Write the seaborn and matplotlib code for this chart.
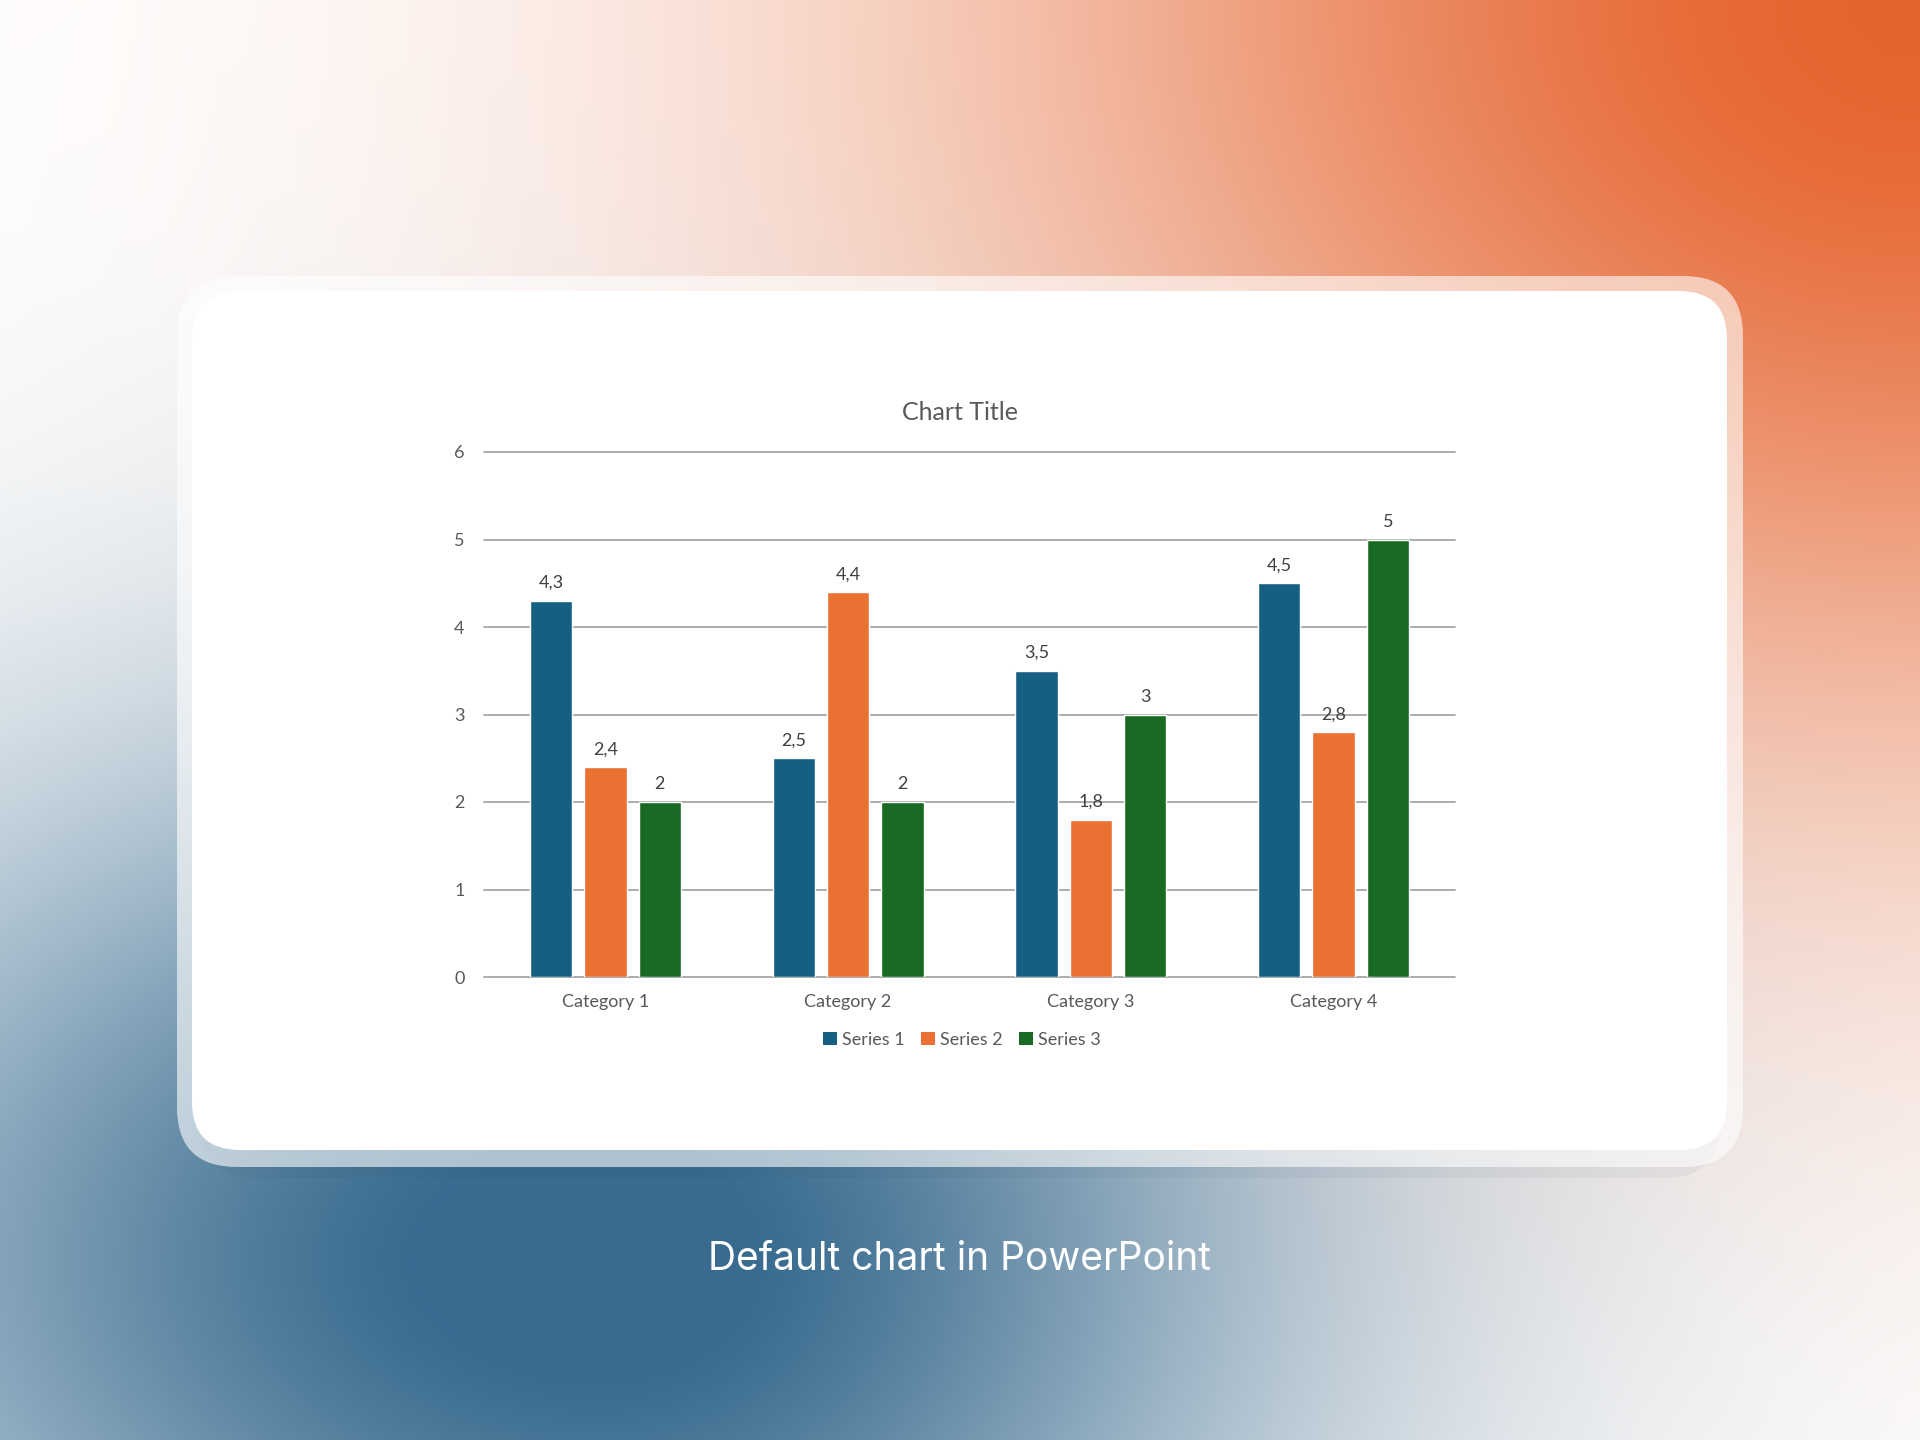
import numpy as np
import pandas as pd
import matplotlib
matplotlib.use("Agg")
import matplotlib.pyplot as plt
from matplotlib.patches import FancyBboxPatch, Patch
import seaborn as sns

# chart data
categories = ["Category 1", "Category 2", "Category 3", "Category 4"]
series_names = ["Series 1", "Series 2", "Series 3"]
series_1 = [4.3, 2.5, 3.5, 4.5]
series_2 = [2.4, 4.4, 1.8, 2.8]
series_3 = [2, 2, 3, 5]
y_ticks = [0, 1, 2, 3, 4, 5, 6]
colors = ["#156082", "#E97132", "#196B24"]

df = pd.DataFrame({
    "category": categories * 3,
    "series": [s for s in series_names for _ in categories],
    "value": series_1 + series_2 + series_3,
})

sns.set_style("white")
plt.rcParams["font.family"] = ["Lato", "DejaVu Sans"]

W, H = 1920, 1440
fig = plt.figure(figsize=(19.2, 14.4), dpi=100)

# background gradient
bg = fig.add_axes([0, 0, 1, 1])
yy, xx = np.mgrid[0:H, 0:W].astype(float)
w_o = np.exp(-(((xx - 1920) / 950) ** 2 + (yy / 760) ** 2))
sx = np.where(xx > 600, 680, 820)
w_b = np.clip(1.05 * np.exp(-(((xx - 600) / sx) ** 2 + ((yy - 1260) / 520) ** 2)), 0, 1)
orange = np.array([0.90, 0.39, 0.18])
blue = np.array([0.22, 0.42, 0.56])
img = np.ones((H, W, 3))
img = img * (1 - w_o[..., None]) + orange * w_o[..., None]
img = img * (1 - w_b[..., None]) + blue * w_b[..., None]
bg.imshow(img, extent=[0, W, H, 0], aspect="auto", interpolation="bilinear")
bg.set_xlim(0, W)
bg.set_ylim(H, 0)
bg.axis("off")

# card shadow, border glow, white card
bg.add_patch(FancyBboxPatch((200, 300), 1520, 878, boxstyle="round,pad=0,rounding_size=55",
                            facecolor="#1d3a50", alpha=0.05, edgecolor="none"))
bg.add_patch(FancyBboxPatch((177, 276), 1566, 891, boxstyle="round,pad=0,rounding_size=60",
                            facecolor="white", alpha=0.6, edgecolor="none"))
bg.add_patch(FancyBboxPatch((192, 291), 1535, 859, boxstyle="round,pad=0,rounding_size=48",
                            facecolor="white", edgecolor="none"))

bg.text(960, 1260, "Default chart in PowerPoint", color="white", fontsize=28,
        family=["Inter", "DejaVu Sans"], ha="center", va="center")

# chart
ax = fig.add_axes([484 / W, 1 - 977 / H, 971 / W, 525 / H])
ax.patch.set_alpha(0)
sns.barplot(data=df, x="category", y="value", hue="series", palette=colors, saturation=1,
            width=0.672, gap=0.22, errorbar=None, legend=False, ax=ax, zorder=3)

for cont in ax.containers:
    ax.bar_label(cont, labels=[f"{v:g}".replace(".", ",") for v in cont.datavalues],
                 padding=7, fontsize=13, color="#404040")

ax.set_xlim(-0.5, 3.5)
ax.set_ylim(0, 6)
ax.set_yticks(y_ticks)
ax.set_xlabel("")
ax.set_ylabel("")
ax.yaxis.grid(True, color="#a6a6a6", linewidth=1.3)
for gl in ax.get_ygridlines():
    gl.set_clip_on(False)
ax.set_axisbelow(True)
for sp in ax.spines.values():
    sp.set_visible(False)
ax.tick_params(axis="both", length=0, labelsize=13, labelcolor="#595959")
ax.tick_params(axis="y", pad=14)
ax.tick_params(axis="x", pad=12)

bg.text(960, 413, "Chart Title", color="#595959", fontsize=18, ha="center", va="center")

handles = [Patch(facecolor=c, edgecolor="none") for c in colors]
fig.legend(handles, series_names, loc="center", bbox_to_anchor=(962 / W, 1 - 1040 / H),
           ncol=3, frameon=False, fontsize=13, handlelength=0.75, handleheight=0.75,
           handletextpad=0.3, columnspacing=0.9, labelcolor="#595959")

fig.savefig("out.png", dpi=100)
